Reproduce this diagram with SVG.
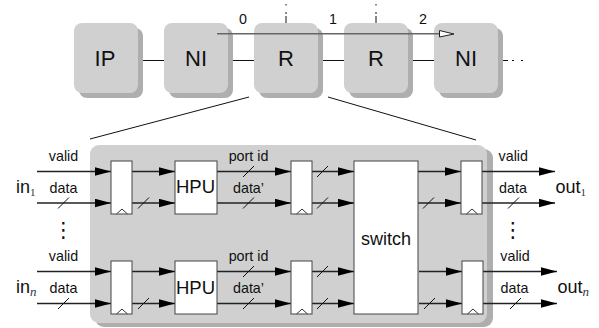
<svg xmlns="http://www.w3.org/2000/svg" width="599" height="328" viewBox="0 0 599 328">
<style>
text{font-family:"Liberation Sans",Arial,sans-serif;fill:#111}
.big{font-size:22px;text-anchor:middle}
.hpu{font-size:18.500px;text-anchor:middle}
.lab{font-size:14.300px;text-anchor:middle}
.io{font-size:18px}
.sub{font-family:"Liberation Serif",serif;font-size:11px;fill:#333}
.subn{font-family:"Liberation Serif",serif;font-size:13px;font-style:italic;fill:#333}
.box{fill:#d0d0d0}
.sh{fill:#aeaeae}
.w{fill:#fff;stroke:#444;stroke-width:1}
.l{stroke:#111;stroke-width:1;fill:none}
.s{stroke:#222;stroke-width:1.300;fill:none}
.t{stroke:#333;stroke-width:1;fill:none}
</style>
<defs>
<marker id="a" markerUnits="userSpaceOnUse" markerWidth="17" markerHeight="9" refX="16" refY="4.250" orient="auto"><path d="M0 0L16 4.250L0 8.500Z" fill="#000"/></marker>
<g id="node"><rect class="sh" x="5" y="5" width="64" height="70" rx="8"/><rect class="box" width="64" height="70" rx="8"/></g>
<g id="clk"><path d="M5.500 53L11 48L16.500 53" class="t"/></g>
</defs>
<g id="panel"><rect class="sh" x="95" y="149" width="398" height="178" rx="9"/><rect class="box" x="90" y="145" width="397" height="178" rx="9"/></g>
<g id="ip"><use href="#node" x="74" y="23"/><text class="big" x="105" y="66">IP</text></g>
<g id="ni1"><use href="#node" x="164" y="23"/><text class="big" x="196" y="66">NI</text></g>
<g id="r1"><use href="#node" x="254" y="23"/><text class="big" x="286" y="66">R</text></g>
<g id="r2"><use href="#node" x="344" y="23"/><text class="big" x="376" y="66">R</text></g>
<g id="ni2"><use href="#node" x="434" y="23"/><text class="big" x="466" y="66">NI</text></g>
<g id="connectors">
<path class="l" d="M143 60.500H164M233 60.500H254M323 60.500H344M413 60.500H434M503 60.500H508M512 60.500H514M521 60.500H523"/>
<path class="l" d="M286 4V5.500M286 12V14M286 16V23M376 4V5.500M376 12V14M376 16V23"/>
<path d="M217 33.700H440" stroke="#666" stroke-width="1.600" fill="none"/>
<path d="M439.500 30.500L454 34L439.500 37Z" fill="#fff" stroke="#222"/>
<path class="l" d="M249 97L90 139M328 97L476 140"/>
<g class="s">
<path marker-end="url(#a)" d="M37 171.500H111"/><path marker-end="url(#a)" d="M37 203H111"/>
<path marker-end="url(#a)" d="M132 171.500H175"/><path marker-end="url(#a)" d="M132 203H175"/>
<path marker-end="url(#a)" d="M217 171.500H291"/><path marker-end="url(#a)" d="M217 203H291"/>
<path marker-end="url(#a)" d="M312 171.500H354"/><path marker-end="url(#a)" d="M312 203H354"/>
<path marker-end="url(#a)" d="M418 171.500H461"/><path marker-end="url(#a)" d="M418 203H461"/>
<path marker-end="url(#a)" d="M482 171.500H555"/><path marker-end="url(#a)" d="M482 203H555"/>
<path marker-end="url(#a)" d="M37 271.500H111"/><path marker-end="url(#a)" d="M37 303.500H111"/>
<path marker-end="url(#a)" d="M132 271.500H175"/><path marker-end="url(#a)" d="M132 303.500H175"/>
<path marker-end="url(#a)" d="M217 271.500H291"/><path marker-end="url(#a)" d="M217 303.500H291"/>
<path marker-end="url(#a)" d="M312 271.500H354"/><path marker-end="url(#a)" d="M312 303.500H354"/>
<path marker-end="url(#a)" d="M419 271.500H462"/><path marker-end="url(#a)" d="M419 303.500H462"/>
<path marker-end="url(#a)" d="M483 271.500H557"/><path marker-end="url(#a)" d="M483 303.500H557"/>
</g>
<path class="l" d="M58 208.500L69 197.500M138 208.500L149 197.500M243 177L254 166M243 208.500L254 197.500M317 177L328 166M317 208.500L328 197.500M423 208.500L434 197.500M508 208.500L519 197.500M58 309L69 298M138 309L149 298M243 277L254 266M243 309L254 298M317 277L328 266M317 309L328 298M424 309L435 298M510 309L521 298"/>
</g>
<g id="reg-in-1"><rect class="w" x="111" y="161" width="21" height="53"/><use href="#clk" x="111" y="161"/></g>
<g id="reg-in-n"><rect class="w" x="111" y="261" width="21" height="53"/><use href="#clk" x="111" y="261"/></g>
<g id="hpu-1"><rect class="w" x="175" y="161" width="42" height="53"/><text class="hpu" x="195.500" y="193">HPU</text></g>
<g id="hpu-n"><rect class="w" x="175" y="261" width="42" height="53"/><text class="hpu" x="195.500" y="293.500">HPU</text></g>
<g id="reg-mid-1"><rect class="w" x="291" y="161" width="21" height="53"/><use href="#clk" x="291" y="161"/></g>
<g id="reg-mid-n"><rect class="w" x="291" y="261" width="21" height="53"/><use href="#clk" x="291" y="261"/></g>
<g id="switch"><rect class="w" x="354" y="161" width="64" height="153"/><text x="386" y="245" text-anchor="middle" font-size="18">switch</text></g>
<g id="reg-out-1"><rect class="w" x="461" y="161" width="21" height="53"/><use href="#clk" x="461" y="161"/></g>
<g id="reg-out-n"><rect class="w" x="462" y="261" width="21" height="53"/><use href="#clk" x="462" y="261"/></g>
<g id="labels">
<text class="lab" x="243" y="24">0</text><text class="lab" x="333" y="24">1</text><text class="lab" x="423" y="24">2</text>
<text class="lab" x="63.500" y="161">valid</text><text class="lab" x="63.500" y="193">data</text>
<text class="lab" x="63.500" y="261">valid</text><text class="lab" x="63.500" y="293">data</text>
<text class="lab" x="248.500" y="161">port id</text><text class="lab" x="248.500" y="193">data’</text>
<text class="lab" x="248.500" y="261">port id</text><text class="lab" x="248.500" y="293">data’</text>
<text class="lab" x="513.300" y="161">valid</text><text class="lab" x="513" y="193">data</text>
<text class="lab" x="515" y="261">valid</text><text class="lab" x="514.500" y="293">data</text>
<text class="io" x="16" y="193">in<tspan class="sub" dy="2.500">1</tspan></text>
<text class="io" x="16" y="293">in<tspan class="subn" dy="2.500">n</tspan></text>
<text class="io" x="555.500" y="193">out<tspan class="sub" dy="2.500">1</tspan></text>
<text class="io" x="557.500" y="293">out<tspan class="subn" dy="2.500">n</tspan></text>
<text x="63.500" y="237" font-size="21" text-anchor="middle" font-family="DejaVu Sans" style="font-family:'DejaVu Sans',sans-serif">⋮</text>
<text x="513" y="237" font-size="21" text-anchor="middle" style="font-family:'DejaVu Sans',sans-serif">⋮</text>
</g>
</svg>
